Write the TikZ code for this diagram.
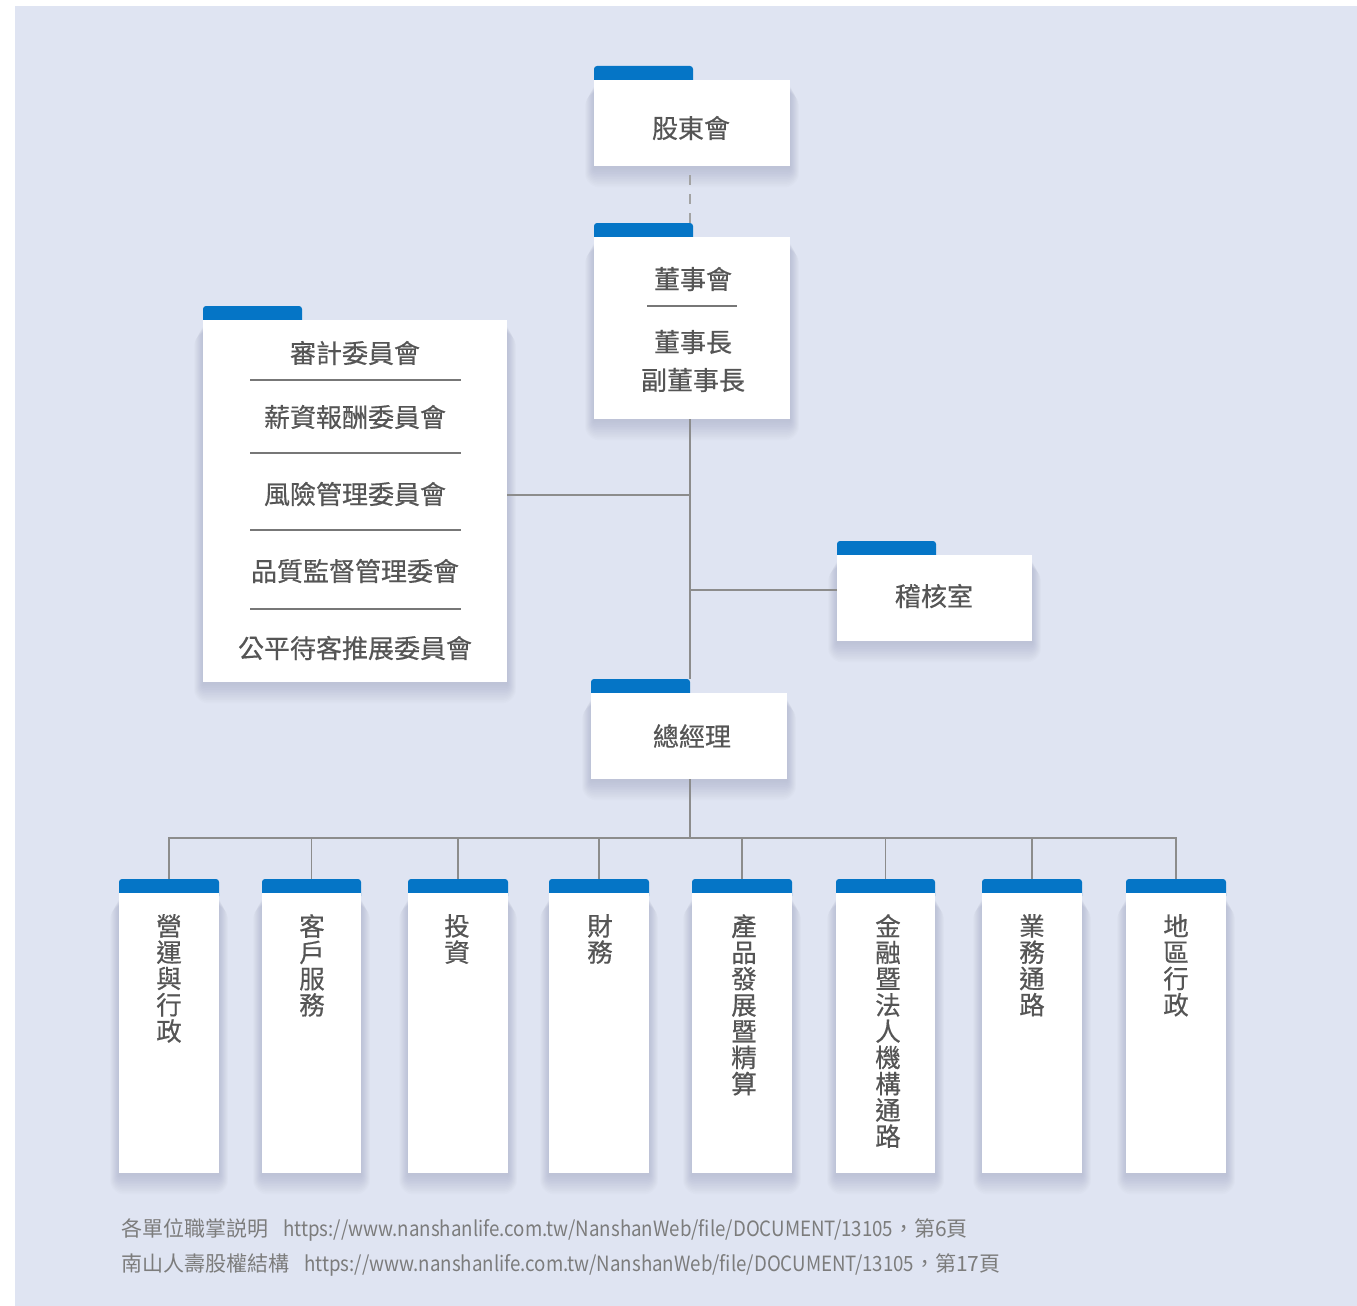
\documentclass[tikz,border=0pt]{standalone}
\usepackage{fontspec}
\setmainfont{Noto Sans CJK TC}
\newfontfamily\lblfont[FakeBold=0.5]{Noto Sans CJK TC}
\definecolor{bg}{HTML}{DFE4F2}
\definecolor{tabblue}{HTML}{0575C6}
\definecolor{txt}{HTML}{555555}
\definecolor{conn}{HTML}{8C8C8C}
\definecolor{foot}{HTML}{7C7C7C}
\definecolor{shade}{HTML}{1A2140}
\tikzset{
  box/.style={fill=white, draw=none, inner sep=0pt},
  tabfill/.style={fill=tabblue, rounded corners=3pt},
  shadowlayer/.style={fill=shade, fill opacity=0.013},
  lbl/.style={inner sep=0pt, text=txt, font=\lblfont\fontsize{26}{30}\selectfont},
  vtext/.style={inner sep=0pt, text=txt, align=center, anchor=north, font=\lblfont\fontsize{25.5}{26.25}\selectfont},
  sepline/.style={draw=txt!80, line width=1.1pt},
  conn/.style={draw=conn, line width=1.6pt},
  dashconn/.style={draw=conn!80, line width=1.6pt, dash pattern=on 10pt off 9pt, dash phase=10pt},
  footer/.style={inner sep=0pt, anchor=west, text=foot, font=\fontsize{21}{24}\selectfont}
}
% soft shadow: x1,y1,x2,y2
\newcommand\softshadow[4]{%
  \foreach \i in {1,...,12}{
    \fill[shadowlayer, rounded corners={\i*1.2pt}] ({#1-\i*0.75},{#2+6+\i*0.5}) rectangle ({#3+\i*0.75},{#4+1+\i*1.7});
  }%
}
% name, x1, y1, x2, y2, tab width
\newcommand\orgunit[6]{%
  \softshadow{#2}{#3}{#4}{#5}
  \coordinate (#1tab) at ({#2+#6/2},{#3-14});
  \fill[tabfill] (#2,{#3-14}) rectangle ({#2+#6},{#3+6});
  \node[box, anchor=north west, minimum width={(#4-#2)*1pt}, minimum height={(#5-#3)*1pt}] (#1) at (#2,#3) {};
}
\newcommand\urltext[1]{\scalebox{0.89}[1]{#1}}
\begin{document}
\begin{tikzpicture}[x=1pt,y=-1pt]
\useasboundingbox (0,0) rectangle (1357,1306);
\fill[bg] (15,6) rectangle (1357,1306);
\coordinate (spine) at (690,0);
\coordinate (bus) at (690,838);

% ---- boxes
\orgunit{gd}{594}{80}{790}{166}{99}
\orgunit{ds}{594}{237}{790}{419}{99}
\orgunit{cm}{203}{320}{507}{682}{99}
\orgunit{ji}{837}{555}{1032}{641}{99}
\orgunit{gm}{591}{693}{787}{779}{99}

\orgunit{b1}{119}{893}{219}{1173}{100}
\orgunit{b2}{262}{893}{361}{1173}{99}
\orgunit{b3}{408}{893}{508}{1173}{100}
\orgunit{b4}{549}{893}{649}{1173}{100}
\orgunit{b5}{692}{893}{792}{1173}{100}
\orgunit{b6}{836}{893}{935}{1173}{99}
\orgunit{b7}{982}{893}{1082}{1173}{100}
\orgunit{b8}{1126}{893}{1226}{1173}{100}

% ---- connectors
\draw[dashconn] (gd.south -| spine) -- (dstab -| spine);
\draw[conn] (ds.south -| spine) -- (gmtab -| spine);
\draw[conn] ([yshift=6pt]cm.east) -- ([yshift=6pt]cm.east -| spine);
\draw[conn] ([yshift=8pt]ji.west) -- ([yshift=8pt]ji.west -| spine);
\draw[conn] (gm.south -| spine) -- (bus);
\foreach \b in {b1,b2,b3,b4,b5,b6,b7,b8}{
  \draw[conn] (\b tab) |- (bus);
}

% ---- texts
\node[lbl] (gdt) at (691,128) {股東會};
\node[lbl] (dst1) at (693,279) {董事會};
\draw[sepline] (647,306) -- (737,306);
\node[lbl] (dst2) at (693,342) {董事長};
\node[lbl] (dst3) at (693,380) {副董事長};

\node[lbl] (cm1) at (355,353) {審計委員會};
\draw[sepline] (250,380) -- (461,380);
\node[lbl] (cm2) at (355,417) {薪資報酬委員會};
\draw[sepline] (250,453) -- (461,453);
\node[lbl] (cm3) at (355,494) {風險管理委員會};
\draw[sepline] (250,530) -- (461,530);
\node[lbl] (cm4) at (355,571) {品質監督管理委會};
\draw[sepline] (250,609) -- (461,609);
\node[lbl] (cm5) at (355,648) {公平待客推展委員會};

\node[lbl] (jit) at (934,596) {稽核室};
\node[lbl] (gmt) at (692,736) {總經理};

\node[vtext] (b1t) at (169,914) {營\\運\\與\\行\\政};
\node[vtext] (b2t) at (312,914) {客\\戶\\服\\務};
\node[vtext] (b3t) at (457,914) {投\\資};
\node[vtext] (b4t) at (600,914) {財\\務};
\node[vtext] (b5t) at (744,914) {產\\品\\發\\展\\暨\\精\\算};
\node[vtext] (b6t) at (888,914) {金\\融\\暨\\法\\人\\機\\構\\通\\路};
\node[vtext] (b7t) at (1032,914) {業\\務\\通\\路};
\node[vtext] (b8t) at (1176,914) {地\\區\\行\\政};

\node[footer] (f1) at (121,1230) {各單位職掌説明\hspace{15pt}\urltext{https://www.nanshanlife.com.tw/NanshanWeb/file/DOCUMENT/13105}，第6頁};
\node[footer] (f2) at (121,1265) {南山人壽股權結構\hspace{15pt}\urltext{https://www.nanshanlife.com.tw/NanshanWeb/file/DOCUMENT/13105}，第17頁};
\end{tikzpicture}
\end{document}
